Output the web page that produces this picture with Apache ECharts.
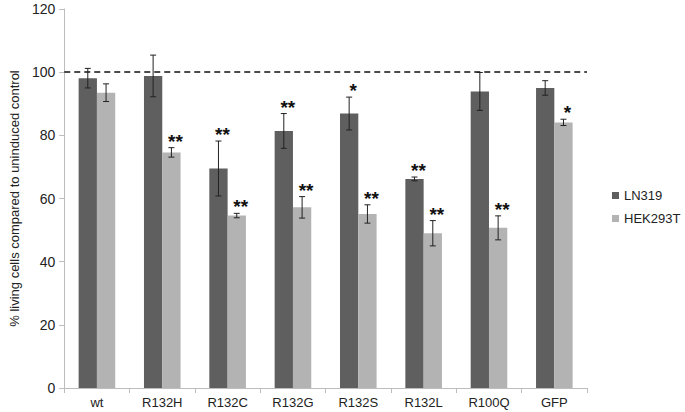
<!DOCTYPE html>
<html>
<head>
<meta charset="utf-8">
<script src="https://cdn.jsdelivr.net/npm/echarts@6/dist/echarts.min.js"></script>
<style>html,body{margin:0;padding:0;background:#fff;}#c{width:685px;height:412px;}</style>
</head>
<body>
<div id="c"></div>
<script>
var categories = ['wt','R132H','R132C','R132G','R132S','R132L','R100Q','GFP'];
var ln319 = [98.1, 98.8, 69.5, 81.4, 86.9, 66.2, 93.9, 95.0];
var ln319Err = [3.1, 6.6, 8.7, 5.5, 5.2, 0.6, 6.0, 2.3];
var hek = [93.5, 74.6, 54.6, 57.2, 55.1, 49.0, 50.7, 84.1];
var hekErr = [2.8, 1.5, 0.7, 3.4, 2.9, 4.0, 3.8, 1.0];
var ln319Sig = ['', '', '**', '**', '*', '**', '', ''];
var hekSig = ['', '**', '**', '**', '**', '**', '**', '*'];
var yTicks = [0, 20, 40, 60, 80, 100, 120];
var refLine = 100;

var DARK = '#5f5f5f', LIGHT = '#b3b3b3';
var GAP = 0.44;

function errData(vals, errs, sig) {
  return vals.map(function (v, i) { return [i, v, errs[i]]; });
}
function makeErr(side, sigArr) {
  return function (params, api) {
    var i = api.value(0), v = api.value(1), e = api.value(2);
    var sig = sigArr[params.dataIndex];
    var band = api.size([1, 0])[0];
    var bw = band * (1 - GAP) / 2;
    var c = api.coord([i, v]);
    var x = c[0] + side * bw / 2;
    var top = api.coord([i, v + e])[1];
    var bot = api.coord([i, v - e])[1];
    var cap = 3;
    var st = { stroke: '#222', lineWidth: 1 };
    var children = [
      { type: 'line', shape: { x1: x, y1: top, x2: x, y2: bot }, style: st },
      { type: 'line', shape: { x1: x - cap, y1: top, x2: x + cap, y2: top }, style: st },
      { type: 'line', shape: { x1: x - cap, y1: bot, x2: x + cap, y2: bot }, style: st }
    ];
    if (sig) {
      children.push({ type: 'text', style: { text: sig, x: x + 4, y: top + 3, align: 'center', verticalAlign: 'bottom',
        font: 'bold 19px "Liberation Sans", Arial, sans-serif', fill: '#111' } });
    }
    return { type: 'group', children: children };
  };
}

var chart = echarts.init(document.getElementById('c'), null, { renderer: 'svg' });
chart.setOption({
  animation: false,
  backgroundColor: '#fff',
  textStyle: { fontFamily: '"Liberation Sans", Arial, sans-serif' },
  grid: { left: 59, right: 98, top: 9, bottom: 24 },
  legend: {
    orient: 'vertical', left: 607, top: 184, itemWidth: 7, itemHeight: 7, itemGap: 10,
    icon: 'rect',
    textStyle: { fontSize: 13, color: '#222' },
    data: ['LN319', 'HEK293T']
  },
  xAxis: {
    type: 'category', data: categories,
    axisLine: { lineStyle: { color: '#bdbdbd' } },
    axisTick: { show: true, length: 5, lineStyle: { color: '#bdbdbd' } },
    axisLabel: { fontSize: 13, color: '#222', margin: 8 }
  },
  yAxis: {
    type: 'value', min: yTicks[0], max: yTicks[yTicks.length - 1], interval: 20,
    name: '% living cells compared to uninduced control',
    nameLocation: 'middle', nameGap: 38, nameRotate: 90,
    nameTextStyle: { fontSize: 13, color: '#222' },
    axisLine: { show: true, lineStyle: { color: '#bdbdbd' } },
    axisTick: { show: true, length: 5, lineStyle: { color: '#bdbdbd' } },
    axisLabel: { fontSize: 14, color: '#222', margin: 9 },
    splitLine: { show: false }
  },
  series: [
    { name: 'LN319', type: 'bar', data: ln319, barGap: '0%', barCategoryGap: (GAP * 100) + '%',
      itemStyle: { color: DARK },
      markLine: { silent: true, symbol: 'none', label: { show: false },
        lineStyle: { color: '#111', type: [6, 4], width: 1.5 },
        data: [{ yAxis: refLine }] } },
    { name: 'HEK293T', type: 'bar', data: hek, itemStyle: { color: LIGHT } },
    { type: 'custom', renderItem: makeErr(-1, ln319Sig), data: errData(ln319, ln319Err), z: 10 },
    { type: 'custom', renderItem: makeErr(1, hekSig), data: errData(hek, hekErr), z: 10 }
  ]
});
</script>
</body>
</html>
